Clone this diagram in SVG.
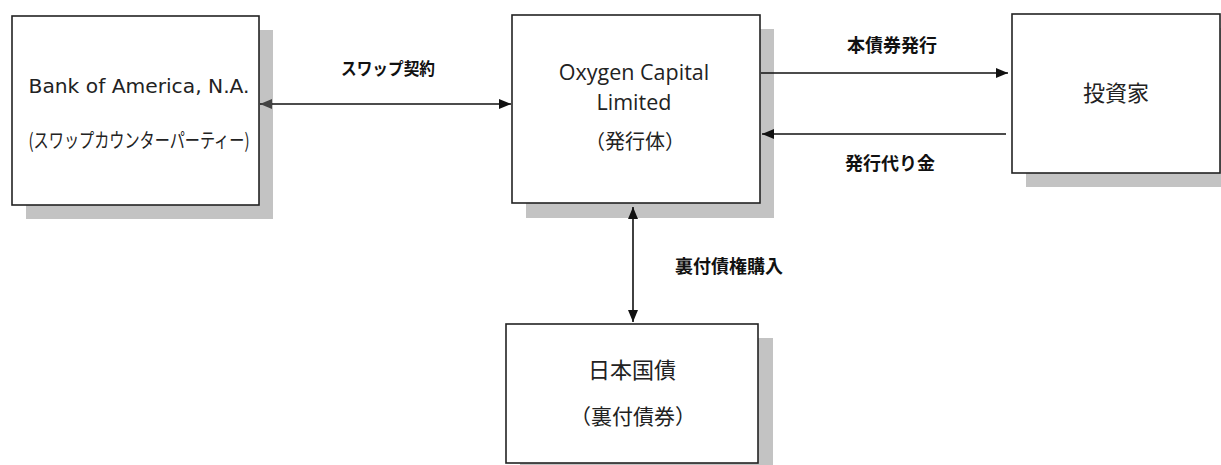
<svg xmlns="http://www.w3.org/2000/svg" width="1221" height="465" viewBox="0 0 1221 465">
<style>
.shadow{fill:#c3c3c3;stroke:none}
.box{fill:#fff;stroke:#222;stroke-width:1.6}
.t{font-family:"DejaVu Sans","Noto Sans CJK JP",sans-serif;font-size:20px;fill:#222;text-anchor:middle}
.c{font-family:"Open Sans","Noto Sans CJK JP",sans-serif;font-size:21.5px;fill:#222;text-anchor:middle}
.j{font-family:"Noto Sans CJK JP",sans-serif;font-size:21px;fill:#222;text-anchor:middle}
.lbl{font-family:"Noto Sans CJK JP",sans-serif;font-size:18px;font-weight:bold;fill:#111;text-anchor:middle}
.ln{stroke:#111;stroke-width:1.6;fill:none}
</style>
<defs>
<marker id="ah" viewBox="0 0 12 10" refX="12" refY="5" markerWidth="12" markerHeight="10" markerUnits="userSpaceOnUse" orient="auto-start-reverse"><path d="M0,0 L12,5 L0,10 Z" fill="#111"/></marker>
<marker id="ahg" viewBox="0 0 12 10" refX="12" refY="5" markerWidth="12" markerHeight="10" markerUnits="userSpaceOnUse" orient="auto-start-reverse"><path d="M0,0 L12,5 L0,10 Z" fill="#444"/></marker>
</defs>
<g id="node-boa">
<rect class="shadow" x="26" y="30" width="247" height="189"/>
<rect class="box" x="12" y="16" width="247" height="189"/>
<text class="t" x="139" y="93" textLength="221" lengthAdjust="spacingAndGlyphs">Bank of America, N.A.</text>
<text class="j" x="139" y="148" textLength="221" lengthAdjust="spacingAndGlyphs" style="font-size:20px">(スワップカウンターパーティー)</text>
</g>
<g id="node-oxygen">
<rect class="shadow" x="526" y="29" width="248" height="189"/>
<rect class="box" x="512" y="15" width="248" height="188"/>
<text class="c" x="634" y="80">Oxygen Capital</text>
<text class="c" x="634" y="110">Limited</text>
<text class="j" x="635" y="149" style="font-size:20px">（発行体）</text>
</g>
<g id="node-investor">
<rect class="shadow" x="1026" y="28" width="195" height="159"/>
<rect class="box" x="1012" y="14" width="208" height="159"/>
<text class="j" x="1116" y="101" style="font-size:22px">投資家</text>
</g>
<g id="node-jgb">
<rect class="shadow" x="520" y="338" width="253" height="127"/>
<rect class="box" x="506" y="324" width="252" height="139"/>
<text class="j" x="632" y="378" style="font-size:22px">日本国債</text>
<text class="j" x="633" y="424">（裏付債券）</text>
</g>
<g id="connectors">
<line class="ln" x1="260" y1="104" x2="511" y2="104" marker-start="url(#ahg)" marker-end="url(#ah)"/>
<line class="ln" x1="761" y1="73" x2="1008" y2="73" marker-end="url(#ah)"/>
<line class="ln" x1="1006" y1="134" x2="762" y2="134" marker-end="url(#ah)"/>
<line class="ln" x1="633" y1="207" x2="633" y2="322" marker-start="url(#ah)" marker-end="url(#ah)"/>
<text class="lbl" x="388" y="75" textLength="94" lengthAdjust="spacingAndGlyphs" style="font-size:17px">スワップ契約</text>
<text class="lbl" x="892" y="52">本債券発行</text>
<text class="lbl" x="890" y="170">発行代り金</text>
<text class="lbl" x="729" y="273">裏付債権購入</text>
</g>
</svg>
